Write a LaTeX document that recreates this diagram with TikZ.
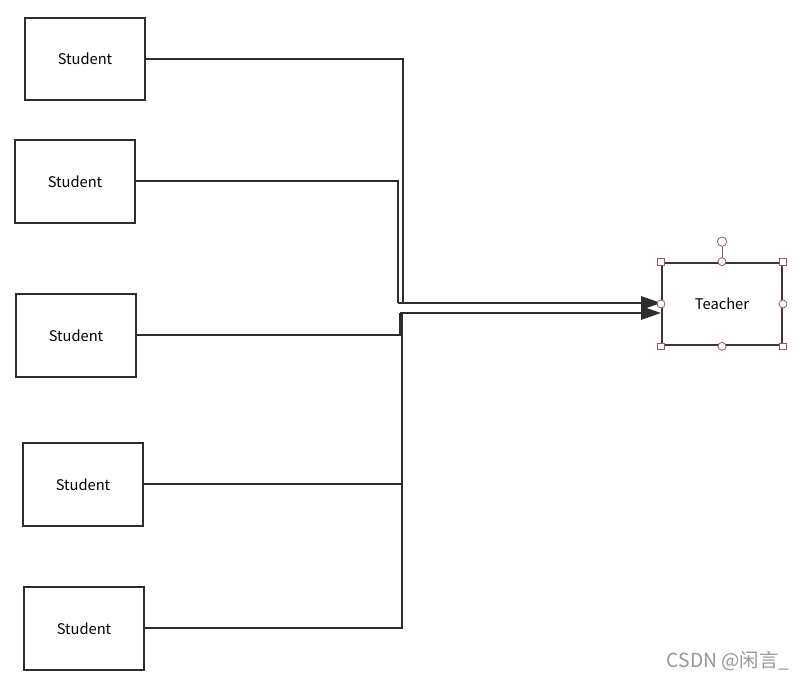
\documentclass[tikz,border=0pt]{standalone}
\usepackage{fontspec}
\setmainfont{Noto Sans CJK SC}
\usetikzlibrary{positioning}
\usetikzlibrary{arrows.meta}
\usetikzlibrary{calc}
\definecolor{linegray}{RGB}{45,45,45}
\definecolor{handlered}{RGB}{150,90,95}
\definecolor{markgray}{RGB}{150,150,150}
\tikzset{>={Triangle[length=15pt,width=10pt]}}
\tikzset{stu/.style={draw=linegray, line width=1.5pt, minimum width=90pt, minimum height=62pt, inner sep=0pt, font=\fontsize{11}{13}\selectfont}}
\tikzset{wire/.style={draw=linegray, line width=1.5pt}}
\tikzset{sqhandle/.style={draw=handlered, fill=white, line width=0.6pt, minimum size=5pt, inner sep=0pt}}
\tikzset{cirhandle/.style={draw=handlered, fill=white, circle, line width=0.6pt, minimum size=6pt, inner sep=0pt}}

\begin{document}
\begin{tikzpicture}[x=0.75pt, y=-0.75pt]
\useasboundingbox (0,0) rectangle (804,680);

\node[stu] (s1) at (85, 59) {Student};
\node[stu] (s2) at (75, 181.5) {Student};
\node[stu] (s3) at (76, 335.5) {Student};
\node[stu] (s4) at (83, 484.5) {Student};
\node[stu] (s5) at (84, 628.5) {Student};

\node[stu, draw=linegray!85!handlered] (t) at (722, 304) {Teacher};

% bends of the wires
\coordinate (j1) at (403, 303);
\coordinate (j2) at (398, 303);
\coordinate (j3) at (400, 313);
\coordinate (j4) at (402, 313);

\draw[wire] (s1.east) -| (j1);
\draw[wire] (s2.east) -| (j2);
\draw[wire] (s3.east) -| (j3);
\draw[wire] (s4.east) -| (j4);
\draw[wire] (s5.east) -| (j4);
\draw[wire, ->] (j2) -- (t.west |- j2);
\draw[wire, ->] (j3) -- (t.west |- j3);

% selection handles
\node[cirhandle, minimum size=7pt] (rot) at ($(t.north)+(0,-20)$) {};
\draw[handlered, line width=0.6pt] (rot) -- (t.north);
\foreach \a in {north west, north east, south west, south east}
  \node[sqhandle] at (t.\a) {};
\foreach \a in {north, south, east, west}
  \node[cirhandle] at (t.\a) {};

\node[text=markgray, font=\fontsize{14.5}{16}\selectfont] (mark) at (728, 661) {CSDN @闲言\_};
\end{tikzpicture}
\end{document}
